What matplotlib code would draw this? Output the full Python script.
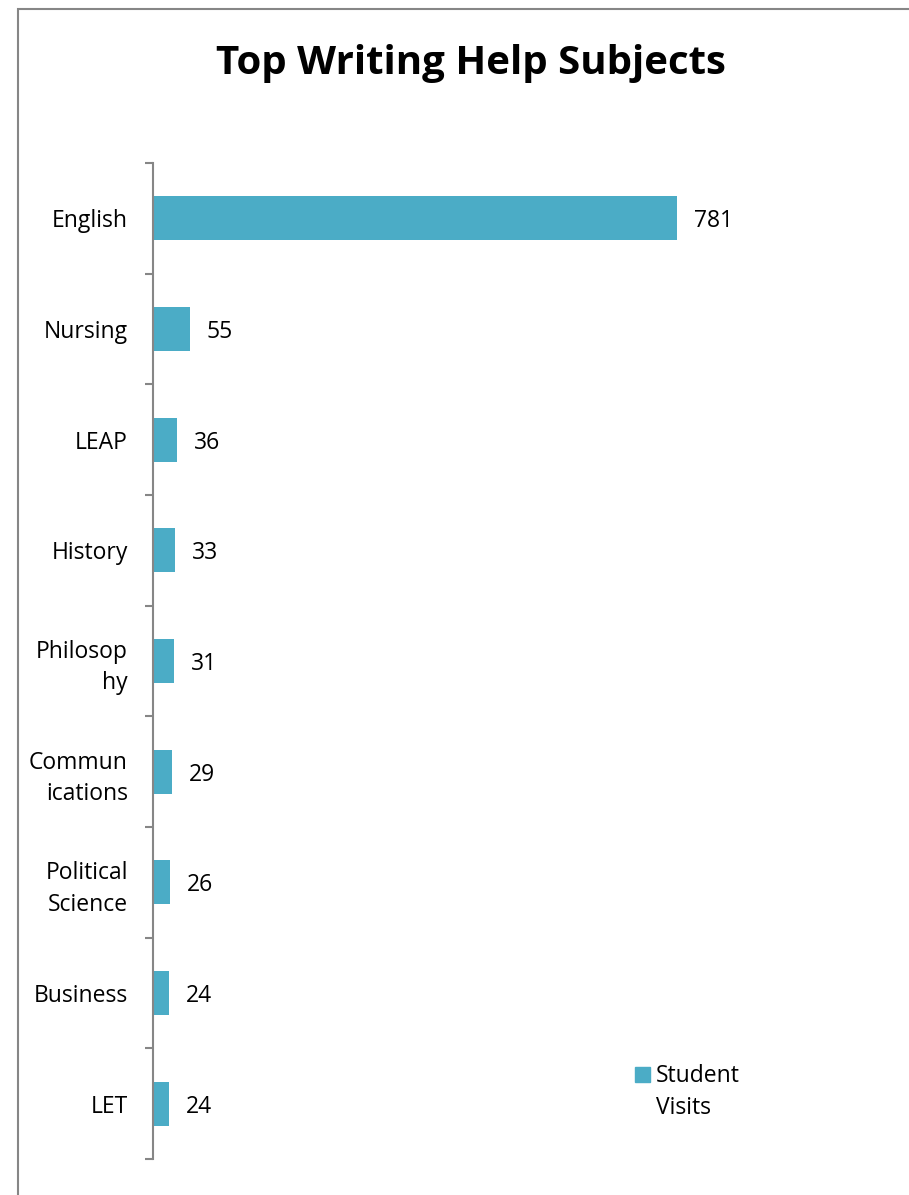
import matplotlib.pyplot as plt
from matplotlib.patches import Rectangle
import numpy as np

subjects = ['English', 'Nursing', 'LEAP', 'History', 'Philosop\nhy',
            'Commun\nications', 'Political\nScience', 'Business', 'LET']
visits = [781, 55, 36, 33, 31, 29, 26, 24, 24]
series_name = 'Student Visits'
title = 'Top Writing Help Subjects'

bar_color = '#4BACC6'
axis_gray = '#868686'

plt.rcParams['font.family'] = ['Open Sans', 'DejaVu Sans']

fig = plt.figure(figsize=(9.09, 11.95), dpi=100)
W, H = 909, 1195

# outer chart border (cut off at right and bottom)
fig.patches.append(Rectangle((18 / W, -0.1), 2, 1 - 9 / H + 0.1,
                             transform=fig.transFigure, fill=False,
                             edgecolor=axis_gray, linewidth=1.5))

ax = fig.add_axes([153 / W, 1 - 1159 / H, 604 / W, (1159 - 163) / H])

pos = np.arange(len(subjects))
bars = ax.barh(pos, visits, height=0.4, color=bar_color, label=series_name)
ax.set_ylim(len(subjects) - 0.5, -0.5)
ax.set_xlim(0, 900)

for p, v in zip(pos, visits):
    ax.annotate(str(v), (v, p), xytext=(12, 0), textcoords='offset points',
                ha='left', va='center_baseline', fontsize=16.5, color='black')

for s in ['top', 'right', 'bottom']:
    ax.spines[s].set_visible(False)
ax.spines['left'].set_color(axis_gray)
ax.spines['left'].set_linewidth(1.5)
ax.set_xticks([])

ax.set_yticks(pos)
ax.set_yticklabels(subjects, fontsize=16.5, linespacing=1.4)
ax.tick_params(axis='y', which='major', length=0, pad=18)
ax.set_yticks(np.arange(len(subjects) + 1) - 0.5, minor=True)
ax.tick_params(axis='y', which='minor', length=6, width=1.5, color=axis_gray)

fig.text(471 / W, 1 - 74 / H, title, ha='center', va='baseline',
         fontsize=29, fontweight='bold')

# legend: square key with a two-line label
fig.patches.append(Rectangle((635 / W, 1 - 1082 / H), 15 / W, 15 / H,
                             transform=fig.transFigure, color=bar_color))
words = series_name.split()
fig.text(656 / W, 1 - 1082 / H, words[0], ha='left', va='baseline', fontsize=16.5)
fig.text(656 / W, 1 - 1114 / H, words[1], ha='left', va='baseline', fontsize=16.5)

plt.savefig('out.png', dpi=100)
plt.close()
